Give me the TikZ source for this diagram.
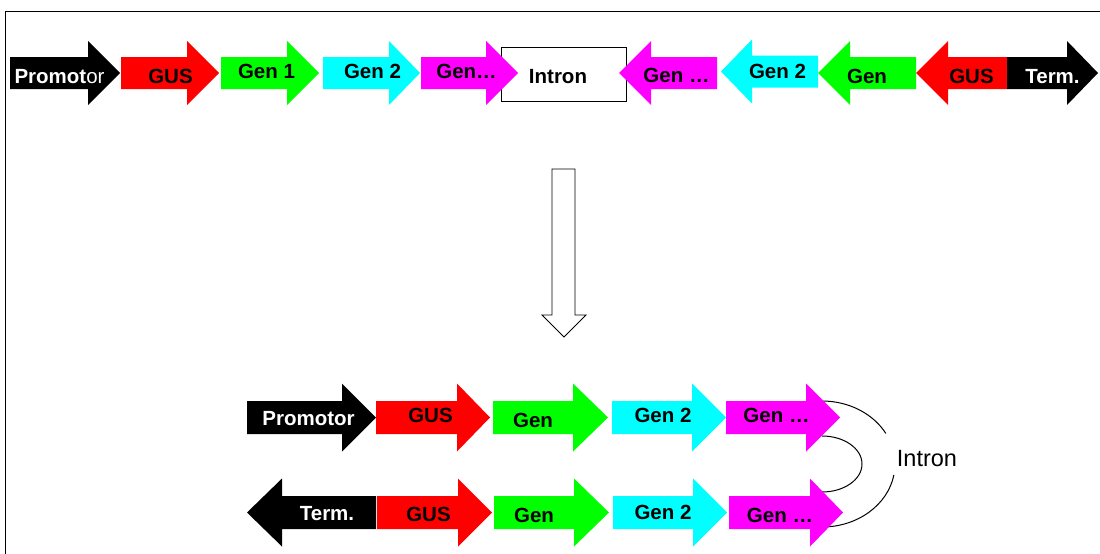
\documentclass[tikz,border=0pt]{standalone}
\usepackage{fontspec}
\setmainfont{Liberation Sans}
\definecolor{cRed}{RGB}{255,0,0}
\definecolor{cGreen}{RGB}{0,255,0}
\definecolor{cCyan}{RGB}{0,255,255}
\definecolor{cMagenta}{RGB}{255,0,255}
% gene arrow: #1 colour, #2 tail x, #3 head base x, #4 tip x, #5 centre y
\newcommand{\genearrow}[5]{%
  \fill[#1] (#2,#5-\bodyh) -- (#3,#5-\bodyh) -- (#3,#5-\headh) -- (#4,#5)
    -- (#3,#5+\headh) -- (#3,#5+\bodyh) -- (#2,#5+\bodyh) -- cycle;}
\def\bodyh{16}
\def\headh{32}
\begin{document}
\begin{tikzpicture}[x=1pt,y=-1pt,
  lbl/.style={font=\fontsize{20.5}{24}\selectfont\bfseries, inner sep=0pt, anchor=base},
  wlbl/.style={lbl, text=white},
  thin line/.style={line width=1pt, draw=black}]
\useasboundingbox[fill=white] (0,0) rectangle (1100,554);

% frame
\draw[thin line] (5,554) -- (5,11) -- (1100,11);

% ---------- construct ----------
\genearrow{black}{10}{88}{120}{73}
\genearrow{cRed}{121}{187}{219}{73}
\genearrow{cGreen}{221}{287}{319}{73}
\genearrow{cCyan}{323}{389}{420}{73}
\node[thin line, fill=white, minimum width=125pt, minimum height=54pt, inner sep=0pt]
  (box) at (563.5,74) {};
\genearrow{cMagenta}{421}{486}{518}{73}
\genearrow{cMagenta}{717}{651}{619}{73}
\genearrow{cCyan}{818}{752}{721}{71.5}
\genearrow{cGreen}{916}{850}{818}{73}
\genearrow{cRed}{1007}{948}{916}{73}
\genearrow{black}{1007}{1067}{1098}{73}

\node[wlbl] (tprom) at (59.5,83) {Promot{\mdseries or}};
\node[lbl]  (tgus1) at (170.5,83) {GUS};
\node[lbl]  (tgen1) at (266.5,78) {Gen 1};
\node[lbl]  (tgen2) at (372.5,78) {Gen 2};
\node[lbl]  (tgenx) at (466.5,78) {Gen…};
\node[lbl]  (tintr) at (558,83) {Intron};
\node[lbl]  (tgenxr) at (676.5,82) {Gen …};
\node[lbl]  (tgen2r) at (777.5,78) {Gen 2};
\node[lbl]  (tgenr) at (867,83) {Gen};
\node[lbl]  (tgusr) at (971.5,83) {GUS};
\node[wlbl] (tterm) at (1052.5,83) {Term.};

% ---------- block arrow ----------
\draw[line width=0.8pt, fill=white] (552,169) -- (575,169) -- (575,315) -- (586,315)
  -- (564,337) -- (542,315) -- (552,315) -- cycle;

% ---------- hairpin ----------
\coordinate (outtop) at (822,401);
\coordinate (outlow) at (822,527);
\coordinate (intop) at (822,436);
\draw[thin line] (outtop) arc[start angle=-90, end angle=-29, x radius=73, y radius=63];
\draw[thin line] (outlow) arc[start angle=90, end angle=10, x radius=73, y radius=63];
\draw[thin line] (intop) arc[start angle=-90, end angle=90, x radius=40, y radius=28];
\node[anchor=base, inner sep=0pt, font=\fontsize{23.5}{28}\selectfont] (lintr) at (927,466) {Intron};

\def\bodyh{16.5}
\def\headh{34}
% sense row
\genearrow{black}{247}{342}{376}{417.5}
\genearrow{cRed}{376}{457}{490}{417.5}
\genearrow{cGreen}{493}{573}{608}{417.5}
\genearrow{cCyan}{612}{692}{726}{417.5}
\genearrow{cMagenta}{726}{806}{840}{417.5}
% antisense row
\genearrow{black}{376}{282}{247}{512.5}
\genearrow{cRed}{377}{458}{492}{512.5}
\genearrow{cGreen}{494}{574}{609}{512.5}
\genearrow{cCyan}{613}{693}{727}{512.5}
\genearrow{cMagenta}{729}{810}{843}{512.5}

\node[wlbl] (bprom) at (308.5,425) {Promotor};
\node[lbl]  (bgus1) at (430.5,422) {GUS};
\node[lbl]  (bgen1) at (533,427) {Gen};
\node[lbl]  (bgen21) at (663,422) {Gen 2};
\node[lbl]  (bgenx1) at (776.5,422) {Gen …};
\node[wlbl] (bterm) at (327,520) {Term.};
\node[lbl]  (bgus2) at (428.5,521) {GUS};
\node[lbl]  (bgen2) at (534,522) {Gen};
\node[lbl]  (bgen22) at (663,519) {Gen 2};
\node[lbl]  (bgenx2) at (780,522) {Gen …};
\end{tikzpicture}
\end{document}
